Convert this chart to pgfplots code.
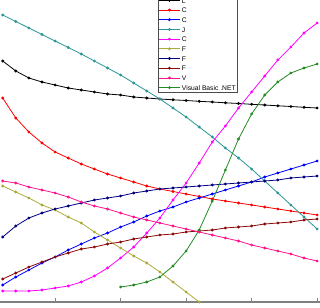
\documentclass[border=0pt]{standalone}
\usepackage{fontspec}
\setmainfont{Liberation Sans}
\usepackage{pgfplots}
\pgfplotsset{compat=1.18}
\definecolor{cteal}{RGB}{40,150,150}
\definecolor{colive}{RGB}{170,170,60}
\definecolor{cmag}{RGB}{255,0,255}
\definecolor{cpink}{RGB}{255,20,140}
\definecolor{cgreen}{RGB}{34,139,34}
\definecolor{cdred}{RGB}{139,10,10}
\definecolor{cnavy}{RGB}{0,0,128}
\begin{document}
\begin{tikzpicture}
\begin{axis}[
  scale only axis, width=320bp, height=302bp,
  xmin=-0.206, xmax=24.22, ymin=0, ymax=302,
  axis x line*=bottom, axis y line=none,
  tick align=inside,
  xtick={4,9,14,19,24}, xticklabels={}, ytick=\empty,
  major tick length=3.5bp,
  every outer x axis line/.append style={draw=gray, line width=1.3bp},
  every tick/.style={gray, line width=0.8bp},
  every axis plot/.append style={line width=0.8bp, mark=*, mark size=1bp},
  legend style={at={(0.4947,0.693)}, anchor=south west, draw=black!70, line width=0.5bp,
    inner sep=0bp, font=\fontsize{6.75}{7}\selectfont,
    nodes={inner sep=1.6bp, text height=6bp, text depth=0.5bp},
    row sep=0pt, column sep=0pt},
  legend cell align=left,
  legend image code/.code={\draw[mark repeat=2,mark phase=2] plot coordinates {(0bp,0bp) (10.5bp,0bp) (21bp,0bp)};},
]
\addplot[black] coordinates {(0,241)(1,231)(2,224)(3,220)(4,217)(5,214)(6,212)(7,210)(8,208)(9,207)(10,205)(11,204)(12,203)(13,202.2)(14,201.5)(15,200.7)(16,200)(17,199.2)(18,198.5)(19,197.7)(20,197)(21,196.2)(22,195.5)(23,194.7)(24,194)};
\addlegendentry{L}
\addplot[red] coordinates {(0,204)(1,184)(2,170)(3,159)(4,150)(5,144)(6,138)(7,133)(8,128)(9,124)(10,120)(11,116)(12,113)(13,110.5)(14,108)(15,105.5)(16,103)(17,101)(18,99)(19,97)(20,95)(21,93)(22,91)(23,89)(24,87)};
\addlegendentry{C}
\addplot[blue] coordinates {(0,17)(1,25)(2,32)(3,39)(4,45)(5,52)(6,58)(7,64)(8,69)(9,75)(10,80)(11,86)(12,91)(13,95)(14,100)(15,104)(16,108)(17,112)(18,116)(19,120)(20,125)(21,129)(22,133)(23,137)(24,141)};
\addlegendentry{C}
\addplot[cteal] coordinates {(0,287)(1,280.5)(2,274)(3,267.5)(4,261)(5,254.5)(6,248)(7,241)(8,234)(9,227)(10,219)(11,211)(12,203)(13,194)(14,185)(15,175)(16,165)(17,154)(18,144)(19,133)(20,121)(21,109)(22,97)(23,85)(24,73)};
\addlegendentry{J}
\addplot[cmag] coordinates {(0,11)(1,11)(2,11)(3,12)(4,14)(5,16)(6,20)(7,26)(8,34)(9,44)(10,55)(11,69)(12,84)(13,102)(14,119)(15,139)(16,160)(17,176)(18,194)(19,210)(20,226)(21,242)(22,255)(23,269)(24,279)};
\addlegendentry{C}
\addplot[colive] coordinates {(0,116)(1,110)(2,104)(3,97)(4,92)(5,85)(6,79)(7,70)(8,62)(9,54)(10,46)(11,39)(12,30)(13,20)(14,10)(15,0)(16,-10)(17,-20)(18,-30)};
\addlegendentry{F}
\addplot[cnavy] coordinates {(0,65)(1,76)(2,84)(3,89)(4,93)(5,96)(6,99)(7,102)(8,104)(9,106)(10,109)(11,111)(12,113)(13,114)(14,115)(15,116)(16,117)(17,118)(18,119)(19,120)(20,121)(21,122)(22,124)(23,125)(24,126)};
\addlegendentry{F}
\addplot[cdred] coordinates {(0,23)(1,29)(2,35)(3,40)(4,45)(5,49)(6,53)(7,55)(8,58)(9,60)(10,63)(11,65)(12,67)(13,68)(14,70)(15,71)(16,72)(17,74)(18,75)(19,76)(20,78)(21,79)(22,80)(23,82)(24,83)};
\addlegendentry{F}
\addplot[cpink] coordinates {(0,121)(1,119)(2,115)(3,112)(4,109)(5,105)(6,100)(7,96)(8,93)(9,89)(10,85)(11,82)(12,79)(13,76)(14,73)(15,70)(16,67)(17,64)(18,61)(19,57)(20,54)(21,51)(22,48)(23,44)(24,41)};
\addlegendentry{V}
\addplot[cgreen] coordinates {(9,15)(10,17)(11,20)(12,25)(13,36)(14,51)(15,72)(16,101)(17,132)(18,163)(19,188)(20,207)(21,220)(22,229)(23,234)(24,238)};
\addlegendentry{Visual Basic .NET}
\end{axis}
\pgfresetboundingbox
\path[use as bounding box] ([yshift=-6bp]current axis.south west) rectangle (current axis.north east);
\end{tikzpicture}
\end{document}
